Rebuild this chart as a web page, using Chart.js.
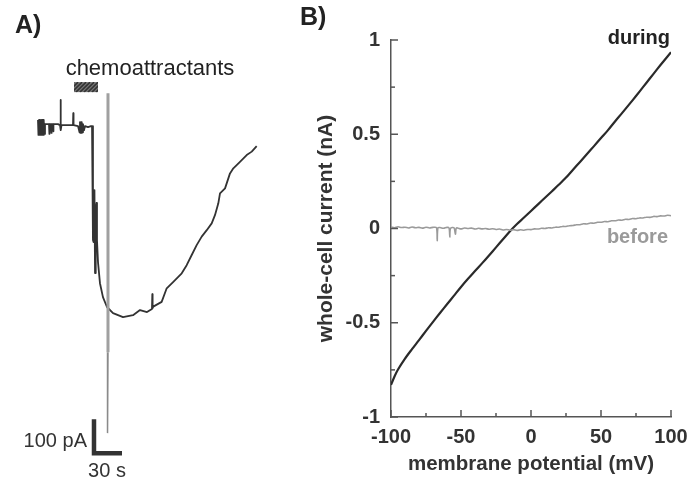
<!DOCTYPE html>
<html>
<head>
<meta charset="utf-8">
<script src="https://cdn.jsdelivr.net/npm/chart.js@4.4.1/dist/chart.umd.min.js"></script>
<style>
  body { margin: 0; background: #fff; }
  #wrap { position: relative; width: 696px; height: 478px; overflow: hidden; font-family: "Liberation Sans", Arial, sans-serif; }
  canvas { position: absolute; top: 0; }
  .lbl { position: absolute; line-height: 1; white-space: nowrap; color: #222; }
</style>
</head>
<body>
<div id="wrap">
  <canvas id="traceChart" width="290" height="478" style="left:0"></canvas>
  <canvas id="ivChart" width="406" height="478" style="left:290px"></canvas>

  <div class="lbl" style="left:15px;top:12px;font-size:25px;font-weight:bold">A)</div>
  <div class="lbl" style="left:300px;top:4px;font-size:25px;font-weight:bold">B)</div>
  <div class="lbl" style="left:50px;width:200px;text-align:center;top:57px;font-size:22px">chemoattractants</div>
  <div class="lbl" style="left:0;width:87px;text-align:right;top:430px;font-size:20px;color:#333">100 pA</div>
  <div class="lbl" style="left:77px;width:60px;text-align:center;top:460px;font-size:20px;color:#333">30 s</div>
  <div class="lbl" style="left:560px;width:110px;text-align:right;top:27px;font-size:20px;font-weight:bold;color:#222">during</div>
  <div class="lbl" style="left:560px;width:108px;text-align:right;top:226px;font-size:20px;font-weight:bold;color:#9a9a9a">before</div>
</div>

<script>
// ---- panel A: whole-cell current trace (time in s, current in pA)
const traceTime = [
  0, 0.5, 1.1, 1.6, 2.1, 2.7, 3.2, 3.7, 4.3, 4.8, 5.4, 5.9, 6.4, 7.0, 7.5,
  9.6, 11.8, 12.1, 12.4, 13.9, 14.3, 14.6, 16.1, 16.4, 16.7,
  21.4, 23.6, 24.1, 24.6, 25.2, 26.8,
  34.3, 37.5, 37.8, 38.1, 42.9,
  43.9, 44.5, 45.0, 45.5, 46.1, 46.6, 47.1, 47.7, 48.2, 49.3, 50.4,
  51.4, 53.6, 56.8, 57.9,
  58.9, 59.5, 60.5, 61.1, 61.6, 62.1, 62.7, 63.2, 64.3, 66.4, 69.6, 73.9,
  80.4, 91.1, 101.8, 109.3, 116.8, 122.1, 122.5, 122.8, 123.5,
  132.5, 137.9, 145.0, 154.0, 159.3, 164.7, 170.0, 175.4, 180.8, 186.1,
  189.6, 193.2, 195.0, 200.4, 205.7, 209.3, 216.4, 223.6, 229.0, 234.3
];
const traceCurrent = [
  12, -32, 12, -32, 12, -32, 12, -32, 12, -32, 12, -32, 9, -29, 0,
  0, 0, -29, 0, 0, -26, 0, 0, -21, 0,
  0, -3, 71, -18, -3, -3,
  -3, -3, 32, -3, -6,
  -6, -24, 6, -26, 6, -26, 3, -24, 0, -18, -6,
  -6, -9, -6, -6,
  -341, -347, -194, -438, -238, -306, -232, -341, -406, -468, -509, -538,
  -556, -568, -562, -547, -553, -544, -500, -541, -537,
  -523, -483, -464, -439, -415, -385, -356, -331, -312, -292,
  -268, -233, -204, -189, -145, -130, -111, -91, -81, -65
];
// fast transient drawn lighter in the record
const artifactTime = [75, 75, 74.5];
const artifactCurrent = [91, -671, -909];
// chemoattractant application and scale bar (30 s, 100 pA)
const stimOn = 38.6;
const stimOff = 64.3;
const scaleBarTime = [60, 60, 90];
const scaleBarCurrent = [-868, -968, -968];

// ---- panel B: I-V relation (mV, nA)
const duringV = [-100, -97.5, -95, -90, -85, -80, -75, -70, -65, -60, -55, -50, -45, -40, -35, -30, -25, -20, -15, -10,
  -5, 0, 5, 10, 15, 20, 25, 30, 35, 40, 45, 50, 55, 60, 65, 70, 75, 80, 85, 90, 95, 100];
const duringI = [-0.83, -0.785, -0.748, -0.69, -0.64, -0.592, -0.543, -0.495, -0.448, -0.402, -0.356, -0.31, -0.267,
  -0.226, -0.185, -0.143, -0.1, -0.057, -0.014, 0.024, 0.058, 0.093, 0.128, 0.163, 0.198, 0.233, 0.27, 0.312, 0.353,
  0.395, 0.437, 0.48, 0.522, 0.568, 0.612, 0.657, 0.703, 0.75, 0.797, 0.844, 0.89, 0.935];
const beforeV = [-100, -97.5, -95, -92.5, -90, -87.5, -85, -82.5, -80, -77.5, -75, -72.5, -70, -67.5, -67, -66.5,
  -65, -62.5, -60, -58.5, -58, -57.5, -55, -54, -53.5, -52.5, -50, -47.5, -45, -42.5, -40, -37.5, -35, -32.5, -30,
  -27.5, -25, -22.5, -20, -17.5, -15, -12.5, -10, -7.5, -5, -2.5, 0, 2.5, 5, 7.5, 10, 12.5, 15, 17.5, 20, 22.5, 25,
  27.5, 30, 32.5, 35, 37.5, 40, 42.5, 45, 47.5, 50, 52.5, 55, 57.5, 60, 62.5, 65, 67.5, 70, 72.5, 75, 77.5, 80,
  82.5, 85, 87.5, 90, 92.5, 95, 97.5, 100];
const beforeI = [0.008, 0.004, 0.009, 0.005, 0.007, 0.003, 0.008, 0.004, 0.006, 0.002, 0.007, 0.003, 0.006, 0.004,
  -0.065, 0.003, 0.005, 0.001, 0.006, 0.002, -0.045, 0.001, 0.004, -0.03, 0.0, 0.003, -0.002, 0.003, 0.0, 0.002,
  -0.003, 0.001, -0.002, 0.0, -0.004, -0.001, -0.005, -0.003, -0.008, -0.005, -0.009, -0.006, -0.01, -0.007,
  -0.009, -0.005, -0.006, -0.002, -0.003, 0.001, 0.0, 0.004, 0.003, 0.007, 0.007, 0.011, 0.011, 0.015, 0.016,
  0.02, 0.02, 0.025, 0.024, 0.029, 0.028, 0.033, 0.033, 0.037, 0.036, 0.041, 0.041, 0.045, 0.044, 0.049, 0.048,
  0.053, 0.052, 0.056, 0.056, 0.06, 0.059, 0.064, 0.063, 0.067, 0.066, 0.07, 0.068];
const potentialTicks = [-100, -50, 0, 50, 100];
const potentialMinor = [-75, -25, 25, 75];
const currentTicks = [-1, -0.5, 0, 0.5, 1];
const currentMinor = [-0.75, -0.25, 0.25, 0.75];

const pts = (xs, ys) => xs.map((x, i) => ({ x: x, y: ys[i] }));
const axisColor = '#555';

Chart.defaults.font.family = '"Liberation Sans", Arial, sans-serif';
Chart.defaults.animation = false;

// hatched bar marking the chemoattractant application
const stimBar = {
  id: 'stimBar',
  afterDatasetsDraw(chart, args, opts) {
    const { ctx, scales: { x, y } } = chart;
    const x0 = x.getPixelForValue(stimOn), x1 = x.getPixelForValue(stimOff);
    const y0 = y.getPixelForValue(opts.top), y1 = y.getPixelForValue(opts.bottom);
    ctx.save();
    ctx.fillStyle = '#777';
    ctx.fillRect(x0, y0, x1 - x0, y1 - y0);
    ctx.beginPath();
    ctx.rect(x0, y0, x1 - x0, y1 - y0);
    ctx.clip();
    ctx.strokeStyle = '#333';
    ctx.lineWidth = 1.5;
    for (let s = x0 - (y1 - y0); s < x1 + 4; s += 4) {
      ctx.beginPath();
      ctx.moveTo(s, y1);
      ctx.lineTo(s + (y1 - y0), y0);
      ctx.stroke();
    }
    ctx.restore();
  }
};

// ticks pointing into the plot
const innerTicks = {
  id: 'innerTicks',
  afterDraw(chart) {
    const { ctx, chartArea, scales: { x, y } } = chart;
    ctx.save();
    ctx.strokeStyle = axisColor;
    ctx.lineWidth = 1.5;
    const tick = (v, len, horiz) => {
      ctx.beginPath();
      if (horiz) {
        const px = x.getPixelForValue(v);
        ctx.moveTo(px, chartArea.bottom);
        ctx.lineTo(px, chartArea.bottom - len);
      } else {
        const py = y.getPixelForValue(v);
        ctx.moveTo(chartArea.left, py);
        ctx.lineTo(chartArea.left + len, py);
      }
      ctx.stroke();
    };
    potentialTicks.forEach(v => tick(v, 7, true));
    potentialMinor.forEach(v => tick(v, 4, true));
    currentTicks.forEach(v => tick(v, 7, false));
    currentMinor.forEach(v => tick(v, 4, false));
    ctx.restore();
  }
};

new Chart(document.getElementById('traceChart'), {
  type: 'line',
  data: {
    datasets: [
      { data: pts(artifactTime.slice(0, 2), artifactCurrent.slice(0, 2)), borderColor: '#a0a0a0', borderWidth: 3 },
      { data: pts(artifactTime.slice(1), artifactCurrent.slice(1)), borderColor: '#8a8a8a', borderWidth: 1.5 },
      { data: pts(traceTime, traceCurrent), borderColor: '#333', borderWidth: 1.8, borderJoinStyle: 'round' },
      { data: pts(scaleBarTime, scaleBarCurrent), borderColor: '#333', borderWidth: 4.5, borderCapStyle: 'butt' }
    ]
  },
  options: {
    responsive: false,
    devicePixelRatio: 1,
    parsing: false,
    elements: { point: { radius: 0 }, line: { tension: 0 } },
    layout: { padding: 0 },
    plugins: { legend: { display: false }, tooltip: { enabled: false }, stimBar: { top: 123.5, bottom: 94 } },
    scales: {
      x: { type: 'linear', display: false, min: -40.7, max: 270 },
      y: { type: 'linear', display: false, min: -1041, max: 365 }
    }
  },
  plugins: [stimBar]
});

new Chart(document.getElementById('ivChart'), {
  type: 'line',
  data: {
    datasets: [
      { label: 'before', data: pts(beforeV, beforeI), borderColor: '#9a9a9a', borderWidth: 1.6 },
      { label: 'during', data: pts(duringV, duringI), borderColor: '#2a2a2a', borderWidth: 2.2 }
    ]
  },
  options: {
    responsive: false,
    devicePixelRatio: 1,
    parsing: false,
    elements: { point: { radius: 0 }, line: { tension: 0.3 } },
    layout: { padding: { top: 40, right: 25, left: 0, bottom: 0 } },
    plugins: { legend: { display: false }, tooltip: { enabled: false } },
    scales: {
      x: {
        type: 'linear', min: -100, max: 100,
        afterBuildTicks: s => { s.ticks = potentialTicks.map(v => ({ value: v })); },
        afterFit: s => { s.height = 61; },
        grid: { drawOnChartArea: false, drawTicks: false },
        border: { display: true, color: axisColor, width: 1.5 },
        ticks: { color: '#333', padding: 8, maxRotation: 0, autoSkip: false,
          font: { size: 20, weight: 'bold' }, callback: v => String(v) },
        title: { display: true, text: 'membrane potential (mV)', color: '#333',
          font: { size: 20.5, weight: 'bold' }, padding: { top: 0, bottom: 1 } }
      },
      y: {
        type: 'linear', min: -1, max: 1,
        afterBuildTicks: s => { s.ticks = currentTicks.map(v => ({ value: v })); },
        afterFit: s => { s.width = 101; },
        grid: { drawOnChartArea: false, drawTicks: false },
        border: { display: true, color: axisColor, width: 1.5 },
        ticks: { color: '#333', padding: 11, autoSkip: false,
          font: { size: 20, weight: 'bold' }, callback: v => String(v) },
        title: { display: true, text: 'whole-cell current (nA)', color: '#333',
          font: { size: 21, weight: 'bold' }, padding: { top: 24, bottom: 0 } }
      }
    }
  },
  plugins: [innerTicks]
});
</script>
</body>
</html>
